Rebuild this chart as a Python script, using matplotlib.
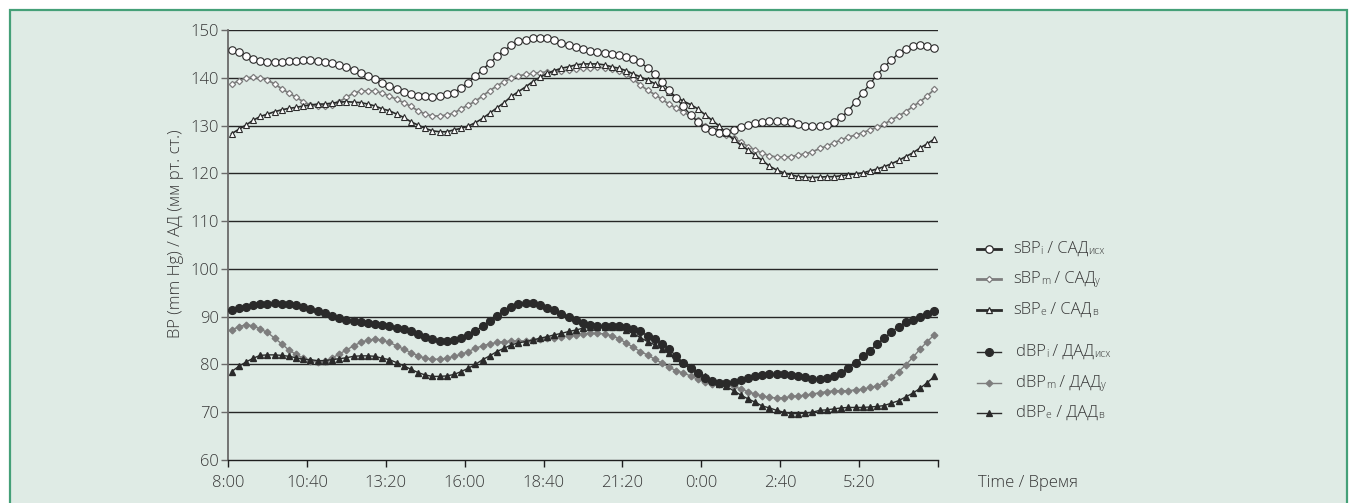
import matplotlib
matplotlib.use('Agg')
import matplotlib.pyplot as plt
from matplotlib.lines import Line2D
from matplotlib.patches import Rectangle
import numpy as np

plt.rcParams['font.family'] = ['Open Sans', 'DejaVu Sans']
plt.rcParams['font.weight'] = 'light'

# ---------------- data ----------------
x_tick_labels = ['8:00', '10:40', '13:20', '16:00', '18:40', '21:20', '0:00', '2:40', '5:20', '']

sbp_i = [145.8, 145.3, 144.6, 144.0, 143.6, 143.4, 143.4, 143.4, 143.5, 143.5,
         143.7, 143.7, 143.5, 143.4, 143.0, 142.6, 142.2, 141.6, 141.1, 140.4,
         139.7, 139.0, 138.3, 137.7, 137.1, 136.6, 136.2, 136.1, 135.9, 136.2,
         136.6, 136.9, 137.9, 139.0, 140.3, 141.7, 143.1, 144.5, 145.7, 146.8,
         147.6, 148.0, 148.3, 148.4, 148.3, 147.9, 147.3, 146.9, 146.4, 146.0,
         145.6, 145.3, 145.1, 145.0, 144.8, 144.4, 144.0, 143.2, 142.1, 140.7,
         139.2, 137.4, 135.7, 134.0, 132.2, 130.8, 129.5, 128.9, 128.5, 128.7,
         129.1, 129.6, 130.1, 130.5, 130.8, 131.0, 131.0, 131.0, 130.8, 130.4,
         130.0, 129.9, 129.9, 130.1, 130.8, 131.7, 133.1, 135.0, 136.8, 138.7,
         140.6, 142.3, 143.7, 145.1, 146.0, 146.6, 146.9, 146.6, 146.2]

sbp_m = [138.6, 139.4, 139.9, 140.2, 139.9, 139.5, 138.7, 137.7, 136.8, 135.9,
         135.0, 134.3, 134.0, 134.1, 134.4, 135.0, 135.9, 136.8, 137.2, 137.3,
         137.2, 136.8, 136.2, 135.5, 134.8, 134.0, 133.1, 132.4, 132.0, 132.0,
         132.2, 132.6, 133.5, 134.3, 135.1, 136.2, 137.3, 138.3, 139.2, 139.9,
         140.4, 140.7, 140.9, 141.1, 141.2, 141.3, 141.5, 141.6, 141.8, 142.0,
         142.1, 142.2, 142.1, 141.8, 141.4, 140.7, 139.7, 138.5, 137.4, 136.5,
         135.5, 134.5, 133.6, 132.8, 132.0, 131.1, 129.9, 129.1, 128.4, 128.0,
         127.3, 126.6, 125.6, 124.9, 124.2, 123.7, 123.4, 123.4, 123.5, 123.8,
         124.1, 124.5, 125.2, 125.7, 126.4, 127.0, 127.6, 128.0, 128.5, 129.1,
         129.6, 130.3, 131.2, 132.0, 132.9, 134.0, 135.0, 136.2, 137.6]

sbp_e = [128.3, 129.2, 130.1, 131.1, 131.9, 132.4, 132.9, 133.3, 133.6, 133.8,
         134.1, 134.3, 134.5, 134.5, 134.7, 134.9, 135.0, 134.9, 134.8, 134.5,
         134.1, 133.5, 133.1, 132.4, 131.7, 130.8, 130.1, 129.4, 128.9, 128.7,
         128.7, 129.1, 129.4, 129.9, 130.6, 131.5, 132.6, 133.7, 134.8, 136.1,
         137.1, 138.1, 139.2, 140.1, 140.9, 141.5, 142.0, 142.3, 142.7, 142.9,
         142.9, 142.9, 142.7, 142.3, 142.0, 141.5, 140.8, 140.2, 139.5, 138.8,
         138.0, 137.1, 136.0, 135.1, 134.4, 133.5, 132.3, 131.1, 129.9, 128.4,
         127.1, 125.9, 124.9, 123.8, 122.7, 121.5, 120.7, 120.1, 119.7, 119.3,
         119.2, 119.1, 119.2, 119.3, 119.3, 119.5, 119.7, 119.9, 120.1, 120.5,
         120.9, 121.4, 122.0, 122.7, 123.5, 124.3, 125.3, 126.2, 127.2]

dbp_i = [91.4, 91.8, 92.1, 92.4, 92.6, 92.7, 92.8, 92.7, 92.6, 92.5,
         92.1, 91.6, 91.2, 90.7, 90.2, 89.8, 89.3, 89.1, 88.8, 88.6,
         88.5, 88.3, 88.1, 87.7, 87.4, 86.9, 86.3, 85.8, 85.3, 85.0,
         84.9, 85.1, 85.6, 86.2, 87.0, 88.0, 89.1, 90.2, 91.2, 92.1,
         92.6, 92.8, 92.8, 92.5, 91.9, 91.3, 90.5, 89.9, 89.3, 88.6,
         88.3, 88.1, 88.1, 88.1, 88.1, 87.8, 87.4, 86.9, 86.0, 85.3,
         84.3, 83.2, 81.7, 80.4, 79.2, 78.2, 77.2, 76.5, 76.1, 76.1,
         76.4, 76.8, 77.1, 77.6, 77.8, 78.0, 78.0, 78.0, 77.8, 77.5,
         77.3, 76.9, 76.9, 77.1, 77.5, 78.2, 79.2, 80.3, 81.7, 82.9,
         84.3, 85.5, 86.8, 87.9, 88.8, 89.3, 89.9, 90.5, 91.1]

dbp_m = [87.2, 87.9, 88.3, 88.1, 87.4, 86.7, 85.5, 84.3, 83.0, 82.1,
         81.3, 80.8, 80.6, 80.8, 81.3, 82.2, 83.0, 83.9, 84.6, 85.1,
         85.3, 85.1, 84.6, 83.9, 83.2, 82.5, 81.8, 81.3, 81.1, 81.1,
         81.3, 81.7, 82.1, 82.7, 83.4, 83.9, 84.3, 84.6, 84.8, 84.9,
         84.9, 85.0, 85.1, 85.3, 85.5, 85.6, 85.8, 86.0, 86.2, 86.4,
         86.5, 86.5, 86.4, 86.0, 85.4, 84.5, 83.6, 82.7, 82.0, 81.1,
         80.3, 79.4, 78.7, 78.2, 77.6, 76.9, 76.3, 75.9, 75.9, 75.7,
         75.4, 74.9, 74.3, 73.8, 73.4, 73.1, 73.0, 73.0, 73.3, 73.4,
         73.6, 73.8, 74.1, 74.3, 74.5, 74.5, 74.5, 74.7, 74.8, 75.2,
         75.5, 76.2, 77.3, 78.5, 79.9, 81.5, 83.2, 84.8, 86.2]

dbp_e = [78.5, 79.6, 80.5, 81.3, 81.9, 82.0, 82.0, 81.9, 81.7, 81.4,
         81.1, 81.0, 80.8, 80.8, 81.0, 81.2, 81.4, 81.7, 81.8, 81.8,
         81.7, 81.3, 81.0, 80.4, 79.7, 79.0, 78.3, 77.8, 77.5, 77.5,
         77.6, 77.9, 78.5, 79.2, 80.0, 81.0, 81.8, 82.7, 83.4, 84.1,
         84.5, 84.8, 85.1, 85.5, 85.8, 86.2, 86.5, 86.9, 87.2, 87.6,
         87.8, 87.9, 87.9, 87.9, 87.8, 87.2, 86.5, 85.6, 84.8, 84.1,
         83.2, 82.4, 81.3, 80.3, 79.2, 78.5, 77.5, 76.6, 75.9, 75.4,
         74.5, 73.6, 72.8, 72.1, 71.3, 70.9, 70.4, 70.0, 69.7, 69.7,
         69.8, 70.0, 70.4, 70.5, 70.7, 70.9, 71.0, 71.0, 71.0, 71.1,
         71.2, 71.4, 71.9, 72.4, 73.2, 74.0, 75.0, 76.2, 77.5]

y_ticks = [60, 70, 80, 90, 100, 110, 120, 130, 140, 150]

# ---------------- figure ----------------
W, H = 1358, 503
fig = plt.figure(figsize=(W / 100, H / 100), dpi=100)
fig.patch.set_facecolor('white')
BG = '#dfebe5'
GREEN = '#45a078'
fig.patches.append(Rectangle((10 / W, -0.05), (W - 21) / W, (H - 10) / H + 0.05,
                             transform=fig.transFigure, facecolor=BG,
                             edgecolor=GREEN, lw=1.6, zorder=-10))

ax = fig.add_axes([228 / W, 1 - 460 / H, 710 / W, 430 / H])
ax.set_facecolor('none')

n = len(sbp_i)
xs = np.arange(n) + 0.5

DARK = '#2a2a2a'
GREY = '#7d7d7d'
TXT = '#383838'

ax.plot(xs, sbp_m, color=GREY, lw=1.3, marker='D', ms=3.2, mfc='white', mec=GREY, mew=0.9, zorder=3)
ax.plot(xs, sbp_e, color=DARK, lw=1.2, marker='^', ms=5.0, mfc='white', mec=DARK, mew=0.8, zorder=4)
ax.plot(xs, sbp_i, color=DARK, lw=1.0, marker='o', ms=5.4, mfc='white', mec=DARK, mew=0.8, zorder=5)

ax.plot(xs, dbp_m, color=GREY, lw=1.0, marker='D', ms=3.4, mfc=GREY, mec=GREY, zorder=3)
ax.plot(xs, dbp_e, color=DARK, lw=1.0, marker='^', ms=5.0, mfc=DARK, mec=DARK, zorder=4)
ax.plot(xs, dbp_i, color=DARK, lw=1.0, marker='o', ms=5.6, mfc=DARK, mec=DARK, zorder=5)

ax.set_xlim(0, n)
ax.set_ylim(60, 150)
ax.set_yticks(y_ticks)
ax.set_xticks(np.arange(0, n + 1, 11))
ax.set_xticklabels(x_tick_labels)

for v in y_ticks[1:]:
    ax.axhline(v, color='#262626', lw=1.0, zorder=1)

for s in ['top', 'right']:
    ax.spines[s].set_visible(False)
ax.spines['left'].set_color('#6a6a6a')
ax.spines['left'].set_linewidth(1.3)
ax.spines['bottom'].set_color('#1e1e1e')
ax.spines['bottom'].set_linewidth(1.0)
ax.tick_params(axis='y', length=5, width=1.0, color='#6a6a6a', pad=1.5,
               labelsize=12, labelcolor=TXT)
ax.tick_params(axis='x', length=5, width=1.0, color='#1e1e1e', pad=6,
               labelsize=12, labelcolor=TXT)

fig.text(176 / W, 1 - 234 / H, 'BP (mm Hg) / АД (мм рт. ст.)', rotation=90,
         ha='center', va='center', fontsize=12, color=TXT)
fig.text(978 / W, 1 - 483 / H, 'Time / Время', ha='left', va='center',
         fontsize=12, color=TXT)

# ---------------- legend ----------------
legend_rows = [
    (249, DARK, 2.0, 'o', 5.4, 'white', DARK, [('sBP', 0), ('i', 1), (' / САД', 0), ('исх', 1)], 1013),
    (279, GREY, 2.0, 'D', 3.2, 'white', GREY, [('sBP', 0), ('m', 1), (' / САД', 0), ('у', 1)], 1013),
    (310, DARK, 2.0, '^', 5.0, 'white', DARK, [('sBP', 0), ('e', 1), (' / САД', 0), ('в', 1)], 1013),
    (352, DARK, 1.0, 'o', 5.6, DARK, DARK, [('dBP', 0), ('i', 1), (' / ДАД', 0), ('исх', 1)], 1016),
    (383, GREY, 1.0, 'D', 3.4, GREY, GREY, [('dBP', 0), ('m', 1), (' / ДАД', 0), ('у', 1)], 1016),
    (413, DARK, 1.0, '^', 5.0, DARK, DARK, [('dBP', 0), ('e', 1), (' / ДАД', 0), ('в', 1)], 1016),
]

FS, FS_SUB = 12, 7.5
for (yy, col, lw, mk, ms, mfc, mec, parts, tx) in legend_rows:
    yf = 1 - yy / H
    fig.add_artist(Line2D([977 / W, 1001 / W], [yf, yf], color=col, lw=lw))
    fig.add_artist(Line2D([989 / W], [yf], marker=mk, ms=ms, mfc=mfc, mec=mec, mew=0.9, lw=0))
    prev = fig.text(tx / W, yf, parts[0][0], fontsize=FS, va='center', ha='left', color=TXT)
    for txt, sub in parts[1:]:
        prev = ax.annotate(txt, xy=(1, 0), xycoords=prev, va='bottom', ha='left',
                           fontsize=FS_SUB if sub else FS, color=TXT,
                           annotation_clip=False)

fig.savefig('out.png', dpi=100, facecolor='white')
